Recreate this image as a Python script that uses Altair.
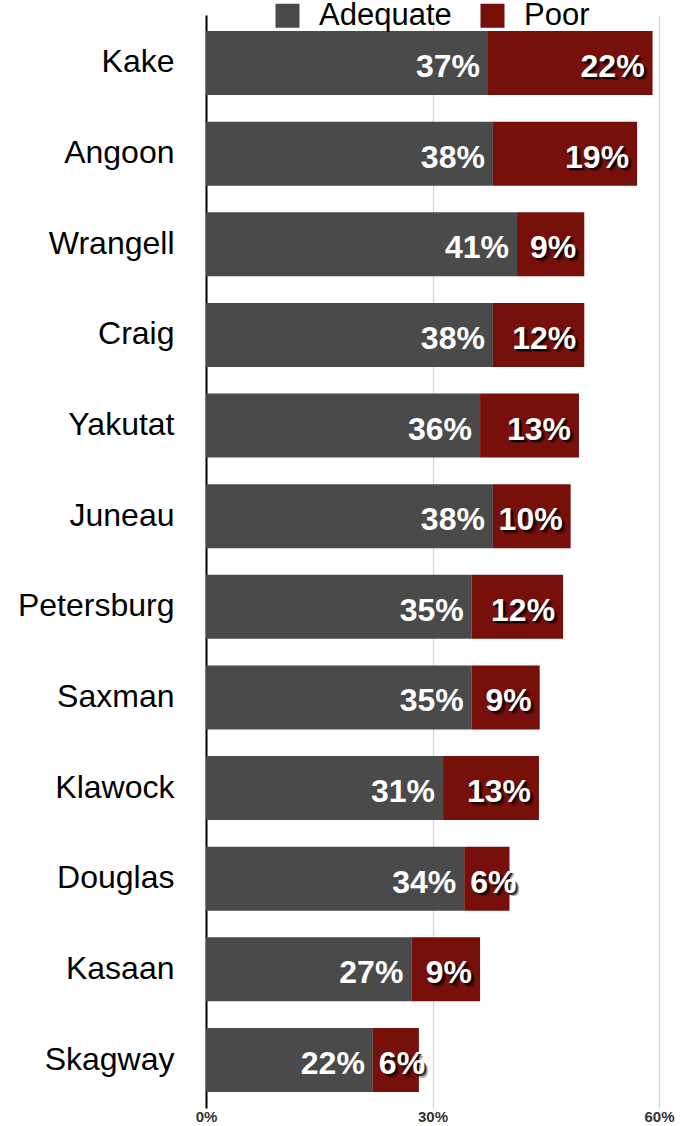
import altair as alt
import pandas as pd

towns = ["Kake", "Angoon", "Wrangell", "Craig", "Yakutat", "Juneau",
         "Petersburg", "Saxman", "Klawock", "Douglas", "Kasaan", "Skagway"]
adequate = [37.35, 38.0, 41.2, 38.0, 36.3, 38.0, 35.2, 35.2, 31.4, 34.2, 27.2, 22.1]
poor = [21.8, 19.1, 8.9, 12.1, 13.1, 10.3, 12.1, 9.0, 12.7, 6.0, 9.1, 6.1]
categories = ["Adequate", "Poor"]
colors = ["#4a4a4a", "#770f0a"]
x_ticks = [0, 30, 60]

FONT = "Liberation Sans"

rows = []
for t, a, p in zip(towns, adequate, poor):
    rows.append(dict(town=t, category="Adequate", start=0.0, end=a, size=a, label=f"{round(a)}%"))
    rows.append(dict(town=t, category="Poor", start=a, end=a + p, size=p, label=f"{round(p)}%"))
df = pd.DataFrame(rows)

y_scale = alt.Scale(paddingInner=0.294, paddingOuter=0.1765)
x_scale = alt.Scale(domain=[0, 60], nice=False)

y_axis = alt.Axis(title=None, ticks=False, labelFontSize=32, labelFont=FONT,
                  labelColor="black", labelPadding=32, labelBaseline="alphabetic",
                  labelOffset=9.5, labelLimit=400, domainColor="black",
                  domainWidth=2, grid=False)
x_axis = alt.Axis(title=None, values=x_ticks, labelExpr="datum.value + '%'",
                  domain=False, ticks=False, grid=True, gridColor="#d4d4d4",
                  gridWidth=1.2, labelFontSize=15, labelFontWeight="bold",
                  labelFont=FONT, labelColor="#333333", labelPadding=1,
                  labelBaseline="top", labelFlush=False)


def Y():
    return alt.Y("town:N", sort=towns, scale=y_scale, axis=y_axis)


bars = alt.Chart(df).mark_bar().encode(
    y=Y(),
    x=alt.X("start:Q", scale=x_scale, axis=x_axis),
    x2="end:Q",
    color=alt.Color("category:N", scale=alt.Scale(domain=categories, range=colors),
                    legend=alt.Legend(title=None, orient="none", legendX=66, legendY=-15,
                                      direction="horizontal", symbolType="square",
                                      symbolSize=576, symbolStrokeWidth=0, symbolOpacity=1,
                                      labelFontSize=31, labelFont=FONT, labelColor="black",
                                      labelOffset=16, columnPadding=25, padding=0)),
)

wide = "datum.category == 'Adequate' || datum.size >= 7"
narrow = "datum.category == 'Poor' && datum.size < 7"
poor_wide = "datum.category == 'Poor' && datum.size >= 7"


def text_layer(filt, x_field, align, dx, dy, color, opacity):
    return alt.Chart(df).transform_filter(filt).mark_text(
        align=align, baseline="alphabetic", dx=dx, dy=dy, font=FONT, fontSize=32,
        fontWeight="bold", color=color, opacity=opacity
    ).encode(
        y=Y(),
        x=alt.X(f"{x_field}:Q", scale=x_scale, axis=x_axis),
        text="label:N",
    )


layers = [bars]
# soft shadow behind the Poor labels
for (dxo, dyo, op) in [(3.5, 3.5, 0.3), (2, 2, 0.75)]:
    layers.append(text_layer(poor_wide, "end", "right", -8 + dxo, 14 + dyo, "black", op))
    layers.append(text_layer(narrow, "start", "left", 6 + dxo, 14 + dyo, "black", op))
layers.append(text_layer(wide, "end", "right", -8, 14, "white", 1))
layers.append(text_layer(narrow, "start", "left", 6, 14, "white", 1))

chart = alt.layer(*layers).properties(
    width=453, height=1093,
    padding={"left": 206, "top": 15, "right": 29, "bottom": 18},
    autosize=alt.AutoSizeParams(type="none"),
).configure(font=FONT, view=alt.ViewConfig(stroke=None))

chart.save("out.html", embed_options={"renderer": "svg", "actions": False})
